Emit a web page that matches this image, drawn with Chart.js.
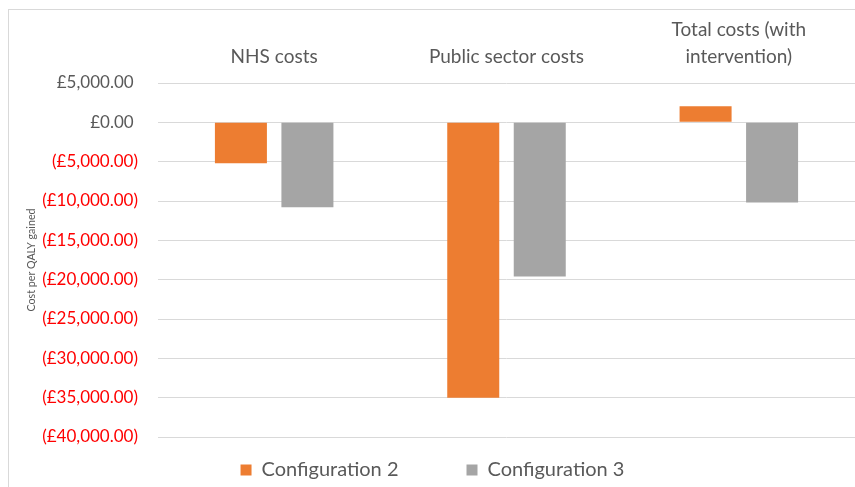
<!DOCTYPE html>
<html>
<head>
<meta charset="utf-8">
<script src="https://cdn.jsdelivr.net/npm/chart.js@4/dist/chart.umd.min.js"></script>
<style>
  html, body { margin: 0; padding: 0; background: #fff; overflow: hidden; }
  #wrap { position: relative; width: 855px; height: 487px; }
  #frame { position: absolute; left: 8px; top: 9px; width: 900px; height: 600px; border: 1px solid #d9d9d9; }
  #costChart { position: absolute; left: 0; top: 0; }
</style>
</head>
<body>
<div id="wrap">
  <div id="frame"></div>
  <canvas id="costChart" width="855" height="487"></canvas>
</div>
<script>
const categories = ['NHS costs', 'Public sector costs', ['Total costs (with', 'intervention)']];
const seriesNames = ['Configuration 2', 'Configuration 3'];
const config2 = [-5200, -35000, 2050];
const config3 = [-10800, -19600, -10200];
const yMin = -40000;
const yMax = 5000;
const yStep = 5000;

const orange = '#ED7D31';
const grey = '#A5A5A5';
const textGrey = '#595959';
const negRed = '#FF0000';
const fontFamily = 'Lato, "Open Sans", sans-serif';

// Excel style currency: negatives in brackets, positives padded to line up
function gbp(v) {
    const s = '£' + Math.abs(v).toLocaleString('en-GB', { minimumFractionDigits: 2, maximumFractionDigits: 2 });
    return v < 0 ? '(' + s + ')' : s + ' ';
}

// squeeze the legend into the strip under the plot
const legendStrip = {
    id: 'legendStrip',
    beforeLayout(chart) {
        const lg = chart.legend;
        if (!lg || lg._strip) return;
        const fit = lg.fit;
        lg.fit = function () { fit.call(this); this.height = 50; };
        lg._strip = true;
    },
    afterLayout(chart) {
        // legend clips to its own box, so only move the top edge up
        chart.legend.top -= 45;
        // nudge the centred row a little to the right
        chart.legend.left += 10;
    }
};

const ctx = document.getElementById('costChart').getContext('2d');
new Chart(ctx, {
    type: 'bar',
    data: {
        labels: categories,
        datasets: [
            {
                label: seriesNames[0],
                data: config2,
                backgroundColor: orange,
                borderWidth: 0,
                categoryPercentage: 0.5725,
                barPercentage: 0.782
            },
            {
                label: seriesNames[1],
                data: config3,
                backgroundColor: grey,
                borderWidth: 0,
                categoryPercentage: 0.5725,
                barPercentage: 0.782
            }
        ]
    },
    options: {
        responsive: false,
        animation: false,
        layout: { padding: 0 },
        plugins: {
            legend: {
                position: 'bottom',
                labels: {
                    boxWidth: 11,
                    boxHeight: 11,
                    padding: 68,
                    color: textGrey,
                    font: { family: fontFamily, size: 20 }
                }
            },
            tooltip: { enabled: false }
        },
        scales: {
            x: {
                position: 'top',
                grid: { display: false },
                border: { display: false },
                ticks: {
                    color: textGrey,
                    padding: 5,
                    maxRotation: 0,
                    font: { family: fontFamily, size: 19, lineHeight: '27px' }
                },
                afterFit(scale) { scale.height = 83; }
            },
            y: {
                min: yMin,
                max: yMax,
                grid: { color: '#d9d9d9', drawTicks: false },
                border: { display: false },
                ticks: {
                    stepSize: yStep,
                    padding: 20,
                    font: { family: fontFamily, size: 17 },
                    color: c => (c.tick && c.tick.value < 0) ? negRed : textGrey,
                    callback: v => gbp(v)
                },
                title: {
                    display: true,
                    text: 'Cost per QALY gained',
                    color: textGrey,
                    padding: { top: 25, bottom: 0 },
                    font: { family: fontFamily, size: 10.7 }
                },
                afterFit(scale) { scale.width = 158; }
            }
        }
    },
    plugins: [legendStrip]
});
</script>
</body>
</html>
